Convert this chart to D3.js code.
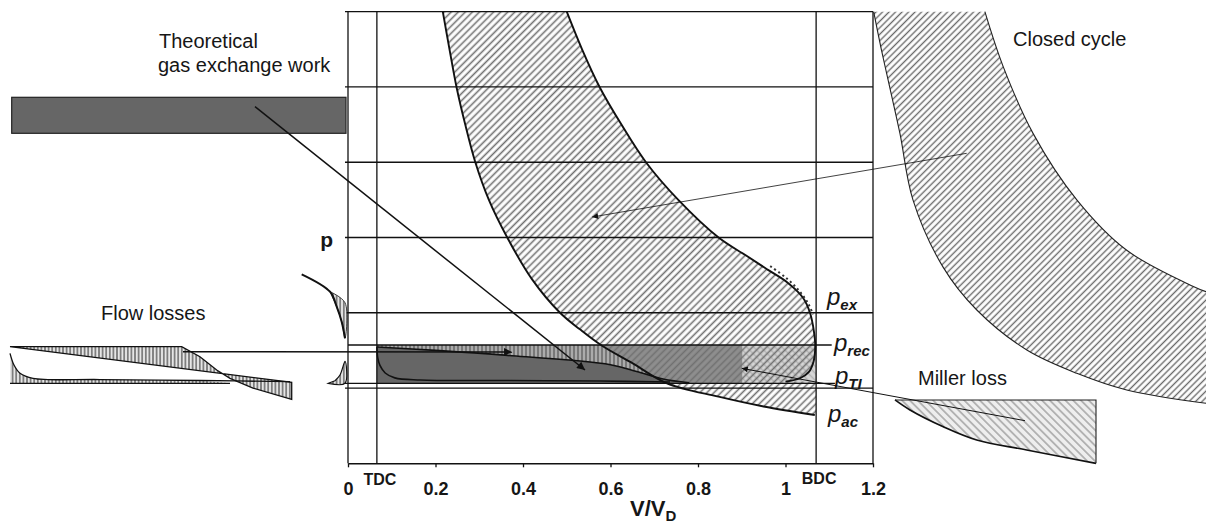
<!DOCTYPE html>
<html>
<head>
<meta charset="utf-8">
<script src="https://cdn.jsdelivr.net/npm/d3@7"></script>
<style>
body { margin: 0; background: #fff; }
svg { display: block; }
text { font-family: Arial, "Liberation Sans", sans-serif; fill: #161616; }
</style>
</head>
<body>
<svg id="chart" width="1206" height="524"></svg>
<script>
// axis values
var xTicks = [0, 0.2, 0.4, 0.6, 0.8, 1, 1.2];
var pGrid = [1, 2, 3, 4, 5, 6];
var vTDC = 0.066, vBDC = 1.07;
var pEx = 2.0, pRec = 1.572, pTI = 1.063, pAc = 0.642;
var millerSplit = 0.902;

// main p-V curves  [V/VD, p]
var compression = [[0.2167,6.0],[0.232,5.5],[0.248,5.0],[0.268,4.5],[0.291,4.0],[0.322,3.5],[0.364,3.0],
  [0.42,2.45],[0.4846,2.0],[0.53,1.78],[0.578,1.572],[0.65,1.33],[0.729,1.063],
  [0.847,0.885],[0.95,0.755],[1.067,0.642]];
var expansion = [[0.500,6.0],[0.535,5.5],[0.575,5.0],[0.625,4.5],[0.681,4.0],[0.755,3.5],[0.847,3.0],
  [0.91,2.76],[0.96,2.57],[1.005,2.40],[1.04,2.2],[1.056,2.0],[1.065,1.75],[1.068,1.55],
  [1.064,1.35],[1.053,1.21],[1.033,1.13],[1.0,1.085]];
var blowdown = [[0.965,2.62],[1.0,2.47],[1.03,2.3],[1.052,2.12],[1.063,1.98]];
var exhaustStroke = [[0.066,1.545],[0.2,1.50],[0.35,1.44],[0.6,1.31],[0.66,1.22],[0.72,1.12],[0.78,1.07]];
var intakeStroke = [[0.066,1.545],[0.068,1.40],[0.073,1.30],[0.085,1.20],[0.107,1.135],[0.165,1.107],
  [0.35,1.10],[0.576,1.093],[0.736,1.08]];

// left panel (flow losses), u = 0..1 across the panel
var flowUpperA = [[0,1.549],[0.5125,1.549],[0.567,1.416],[0.617,1.24],[0.6567,1.129],[0.7254,1.0],[0.8409,0.85]];
var flowUpperB = [[0,1.549],[0.8409,1.076]];
var flowLower = [[0,1.461],[0.0119,1.306],[0.0299,1.196],[0.0687,1.129],[0.2687,1.113],[0.5672,1.100],[0.8358,1.084]];
var blowCurve = [[0.8707,2.511],[0.9552,2.28],[0.9752,2.081],[0.9901,1.881],[1.0,1.661]];
var blowFill = [[0.9552,2.28],[1.0,2.134],[1.0,1.661],[0.9901,1.881],[0.9752,2.081]];
var pushFill = [[0.9501,1.063],[1.0,1.063],[1.0,1.355],[0.9851,1.173],[0.9701,1.097]];

// right panel (closed cycle), u = 0..1 across the panel
var ccLeft = [[0.002,6.0],[0.025,5.5],[0.05,5.0],[0.081,4.38],[0.12,3.50],[0.21,2.61],[0.311,2.04],
  [0.462,1.505],[0.612,1.196],[0.762,0.974],[1.0,0.797]];
var ccRight = [[0.336,6.0],[0.391,5.27],[0.481,4.38],[0.612,3.50],[0.762,2.83],[0.962,2.35],[1.0,2.28]];

// Miller loss inset
var millerCurve = [[0,0.842],[0.0746,0.709],[0.2403,0.486],[0.4065,0.31],[0.6552,0.177],[1.0,0.0]];

var svg = d3.select("#chart");
var defs = svg.append("defs");

var x = d3.scaleLinear().domain([0, 1.2]).range([348, 873]);
var y = d3.scaleLinear().domain([0, 6]).range([463.3, 11.7]);
var xL = d3.scaleLinear().domain([0, 1]).range([10, 345]);
var xR = d3.scaleLinear().domain([0, 1]).range([873, 1206]);
var xM = d3.scaleLinear().domain([0, 1]).range([895, 1096]);

function hatch(id, angle, step, color, width, bg) {
    var p = defs.append("pattern")
      .attr("id", id)
      .attr("patternUnits", "userSpaceOnUse")
      .attr("width", step)
      .attr("height", step)
      .attr("patternTransform", "rotate(" + angle + ")");
    if (bg) p.append("rect").attr("width", step).attr("height", step).attr("fill", bg);
    p.append("line")
      .attr("x1", step / 2).attr("y1", -1)
      .attr("x2", step / 2).attr("y2", step + 1)
      .attr("stroke", color)
      .attr("stroke-width", width);
}
hatch("cc", 45, 5, "#707070", 1.6, null);
hatch("ccR", 45, 4.6, "#6a6a6a", 1.4, null);
hatch("vMain", 0, 4, "#787878", 2, "#ababab");
hatch("vLeft", 0, 3.6, "#2a2a2a", 1, "#e6e6e6");
hatch("millerIn", -45, 5.5, "#a0a0a0", 1.4, "#eeeeee");
hatch("millerMain", -45, 5, "#b4b4b4", 1.5, "#d6d6d6");

function marker(id, w, h) {
    defs.append("marker")
      .attr("id", id)
      .attr("viewBox", "0 0 10 10")
      .attr("refX", 10).attr("refY", 5)
      .attr("markerWidth", w).attr("markerHeight", h)
      .attr("markerUnits", "userSpaceOnUse")
      .attr("orient", "auto")
      .append("path")
      .attr("d", "M0,0 L10,5 L0,10 Z")
      .attr("fill", "#111");
}
marker("arr", 11, 8);
marker("arrS", 9, 6);

function curveLine(sx) {
    return d3.line()
      .x(function (d) { return sx(d[0]); })
      .y(function (d) { return y(d[1]); })
      .curve(d3.curveCatmullRom.alpha(0.5));
}
function straight(sx) {
    return d3.line()
      .x(function (d) { return sx(d[0]); })
      .y(function (d) { return y(d[1]); });
}
function joinPaths(parts) {
    return parts.map(function (s, i) { return i ? s.replace(/^M/, "L") : s; }).join("") + "Z";
}

var cMain = curveLine(x), sMain = straight(x);

// clip: region left of / below the compression line
defs.append("clipPath").attr("id", "leftComp")
  .append("path")
  .attr("d", joinPaths([cMain(compression), sMain([[1.067, 0], [0, 0], [0, 6]])]));

// gas exchange rectangle
svg.append("rect")
  .attr("x", x(vTDC)).attr("y", y(pRec))
  .attr("width", x(millerSplit) - x(vTDC)).attr("height", y(pTI) - y(pRec))
  .attr("fill", "#8e8e8e");
svg.append("rect")
  .attr("clip-path", "url(#leftComp)")
  .attr("x", x(vTDC)).attr("y", y(pRec))
  .attr("width", x(millerSplit) - x(vTDC)).attr("height", y(pTI) - y(pRec))
  .attr("fill", "url(#vMain)");
svg.append("rect")
  .attr("x", x(millerSplit)).attr("y", y(pRec))
  .attr("width", x(vBDC) - x(millerSplit)).attr("height", y(pTI) - y(pRec))
  .attr("fill", "url(#millerMain)");

// closed cycle band
var bandPath = joinPaths([
    cMain(expansion),
    sMain([[1.0, 1.085], [vBDC, 1.085], [vBDC, pAc]]),
    cMain(compression.slice().reverse())
]);
svg.append("path").attr("d", bandPath).attr("fill", "url(#cc)");

// dark loop
svg.append("path")
  .attr("d", joinPaths([cMain(exhaustStroke), sMain([[0.78, pTI], [vTDC, pTI]])]))
  .attr("fill", "#666");
svg.append("path").attr("d", cMain(intakeStroke))
  .attr("fill", "none").attr("stroke", "#111").attr("stroke-width", 1.6);
svg.append("path").attr("d", cMain(exhaustStroke))
  .attr("fill", "none").attr("stroke", "#111").attr("stroke-width", 1.6);

// compression / expansion
[compression, expansion].forEach(function (c) {
    svg.append("path").attr("d", cMain(c))
      .attr("fill", "none").attr("stroke", "#111").attr("stroke-width", 1.9);
});
svg.append("path").attr("d", cMain(blowdown))
  .attr("fill", "none").attr("stroke", "#333").attr("stroke-width", 2)
  .attr("stroke-dasharray", "2,3");

// grid and frame
svg.append("g").selectAll("line").data(pGrid).enter().append("line")
  .attr("x1", x(0) - 3).attr("x2", x(1.2))
  .attr("y1", function (d) { return y(d); }).attr("y2", function (d) { return y(d); })
  .attr("stroke", "#111").attr("stroke-width", 1.3);
svg.append("g").selectAll("line").data([0, vTDC, vBDC, 1.2]).enter().append("line")
  .attr("x1", function (d) { return x(d); }).attr("x2", function (d) { return x(d); })
  .attr("y1", y(0)).attr("y2", y(6))
  .attr("stroke", "#111").attr("stroke-width", 1.3);

// pressure levels
svg.append("line").attr("x1", x(0)).attr("x2", x(1.1056))
  .attr("y1", y(pRec)).attr("y2", y(pRec)).attr("stroke", "#111").attr("stroke-width", 1.3);
svg.append("line").attr("x1", x(0) - 3).attr("x2", x(1.113))
  .attr("y1", y(pTI)).attr("y2", y(pTI)).attr("stroke", "#111").attr("stroke-width", 1.3);

var xAxis = svg.append("g")
  .attr("transform", "translate(0," + y(0) + ")")
  .call(d3.axisBottom(x).tickValues(xTicks).tickSize(4).tickSizeOuter(0)
      .tickPadding(15).tickFormat(d3.format("~g")));
xAxis.select(".domain").attr("stroke", "#111").attr("stroke-width", 1.5);
xAxis.selectAll(".tick line").attr("stroke", "#111").attr("stroke-width", 1.3);
xAxis.selectAll(".tick text")
  .style("font-family", "Arial, 'Liberation Sans', sans-serif")
  .style("font-size", "18px").style("font-weight", "bold").attr("fill", "#161616");

svg.append("text").attr("x", x(vTDC) + 3).attr("y", 485).attr("text-anchor", "middle")
  .style("font-size", "16px").style("font-weight", "bold").text("TDC");
svg.append("text").attr("x", x(vBDC) + 3).attr("y", 484).attr("text-anchor", "middle")
  .style("font-size", "16px").style("font-weight", "bold").text("BDC");

var xl = svg.append("text").attr("x", 630).attr("y", 516)
  .style("font-size", "22px").style("font-weight", "bold");
xl.append("tspan").text("V/V");
xl.append("tspan").attr("dy", 5).style("font-size", "15px").text("D");

svg.append("text").attr("x", 333).attr("y", 247).attr("text-anchor", "end")
  .style("font-size", "21px").style("font-weight", "bold").text("p");

function pLabel(px, py, sub) {
    var t = svg.append("text").attr("x", px).attr("y", py)
      .style("font-size", "24px").style("font-style", "italic");
    t.append("tspan").text("p");
    t.append("tspan").attr("dy", 5).style("font-size", "15px")
      .style("font-weight", "bold").text(sub);
}
pLabel(827, y(pEx) - 8, "ex");
pLabel(834, y(pRec) + 6, "rec");
pLabel(835, y(pTI) + 1, "TI");
pLabel(828, 422, "ac");

// ---- left panel: theoretical gas exchange work + flow losses
svg.append("rect").attr("x", 11.7).attr("y", 97.3).attr("width", 334.3).attr("height", 36)
  .attr("fill", "#666").attr("stroke", "#222").attr("stroke-width", 1.2);

var cL = curveLine(xL), sL = straight(xL);
svg.append("path")
  .attr("d", joinPaths([sL(flowUpperA), sL(flowUpperB.slice().reverse())]))
  .attr("fill", "url(#vLeft)").attr("stroke", "#111").attr("stroke-width", 1.3);
svg.append("path")
  .attr("d", joinPaths([cL(flowLower.slice(0, 6)), sL([[0.6567, pTI], [0, pTI]])]))
  .attr("fill", "url(#vLeft)").attr("stroke", "none");
svg.append("path").attr("d", cL(flowLower))
  .attr("fill", "none").attr("stroke", "#111").attr("stroke-width", 1.3);
svg.append("line").attr("x1", xL(0)).attr("x2", xL(0.6567))
  .attr("y1", y(pTI)).attr("y2", y(pTI)).attr("stroke", "#111").attr("stroke-width", 1.3);
svg.append("path").attr("d", joinPaths([cL(blowFill)]))
  .attr("fill", "url(#vLeft)").attr("stroke", "#111").attr("stroke-width", 0.8);
svg.append("path").attr("d", cL(blowCurve))
  .attr("fill", "none").attr("stroke", "#111").attr("stroke-width", 2);
svg.append("path").attr("d", joinPaths([cL(pushFill)]))
  .attr("fill", "url(#vLeft)").attr("stroke", "#111").attr("stroke-width", 1.2);

// ---- right panel: closed cycle + Miller loss
var cR = curveLine(xR), sR = straight(xR);
svg.append("path")
  .attr("d", joinPaths([cR(ccLeft), sR([[1.0, 0.797], [1.0, 2.28]]), cR(ccRight.slice().reverse())]))
  .attr("fill", "url(#ccR)");
[ccLeft, ccRight].forEach(function (c) {
    svg.append("path").attr("d", cR(c))
      .attr("fill", "none").attr("stroke", "#222").attr("stroke-width", 1.1);
});

var cM = curveLine(xM), sM = straight(xM);
svg.append("path")
  .attr("d", joinPaths([cM(millerCurve), sM([[1, 0.842]])]))
  .attr("fill", "url(#millerIn)").attr("stroke", "none");
svg.append("path").attr("d", cM(millerCurve))
  .attr("fill", "none").attr("stroke", "#111").attr("stroke-width", 1.7);
svg.append("path").attr("d", sM([[0, 0.842], [1, 0.842], [1, 0]]))
  .attr("fill", "none").attr("stroke", "#222").attr("stroke-width", 1.1);

// ---- annotation arrows
function arrow(x1, y1, x2, y2, w, m) {
    svg.append("line")
      .attr("x1", x1).attr("y1", y1).attr("x2", x2).attr("y2", y2)
      .attr("stroke", "#111").attr("stroke-width", w)
      .attr("marker-end", "url(#" + m + ")");
}
arrow(255, 106.7, x(0.5417), y(1.24), 1.5, "arr");
arrow(183, 351.7, x(0.375), y(1.479), 1.5, "arr");
arrow(966.7, 153.3, x(0.558), y(3.272), 0.8, "arrS");
arrow(1025, 420.7, x(0.900), y(1.262), 1, "arrS");

// ---- labels
function label(tx, ty, s) {
    svg.append("text").attr("x", tx).attr("y", ty)
      .style("font-size", "20px").text(s);
}
label(159, 48.3, "Theoretical");
label(158, 71.7, "gas exchange work");
label(101, 320, "Flow losses");
label(1013, 46, "Closed cycle");
label(918, 385, "Miller loss");
</script>
</body>
</html>
